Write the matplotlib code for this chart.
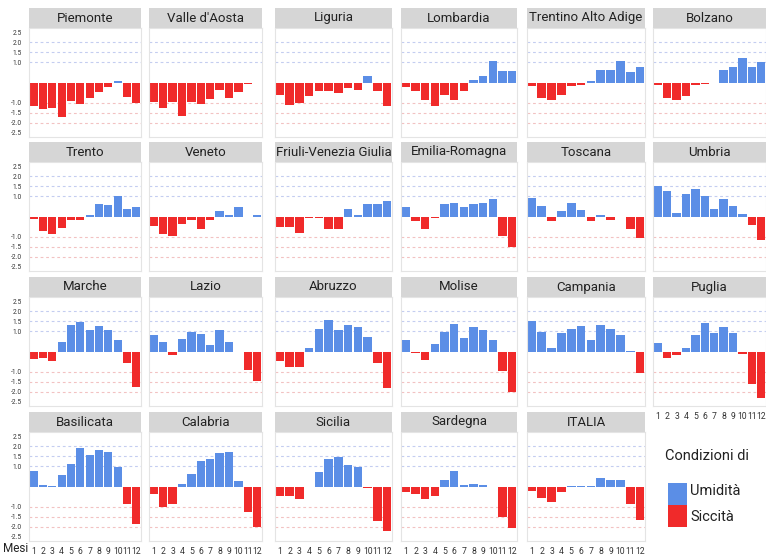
import matplotlib
matplotlib.use("Agg")
import matplotlib.pyplot as plt
from matplotlib.patches import Rectangle

plt.rcParams['font.family'] = ['Liberation Sans Narrow', 'Roboto', 'DejaVu Sans']

months = [1, 2, 3, 4, 5, 6, 7, 8, 9, 10, 11, 12]
month_labels = ['1', '2', '3', '4', '5', '6', '7', '8', '9', '10', '11', '12']
ytick_values = [2.5, 2.0, 1.5, 1.0, -1.0, -1.5, -2.0, -2.5]
ytick_labels = ['2.5', '2.0', '1.5', '1.0', '-1.0', '-1.5', '-2.0', '-2.5']

regions = ['Piemonte', "Valle d'Aosta", 'Liguria', 'Lombardia', 'Trentino Alto Adige', 'Bolzano',
           'Trento', 'Veneto', 'Friuli-Venezia Giulia', 'Emilia-Romagna', 'Toscana', 'Umbria',
           'Marche', 'Lazio', 'Abruzzo', 'Molise', 'Campania', 'Puglia',
           'Basilicata', 'Calabria', 'Sicilia', 'Sardegna', 'ITALIA']

piemonte = [-1.15, -1.3, -1.25, -1.7, -0.9, -1.05, -0.75, -0.45, -0.2, 0.05, -0.7, -1.0]
valle_aosta = [-0.95, -1.25, -0.95, -1.65, -0.95, -1.05, -0.8, -0.35, -0.75, -0.45, -0.05, 0.0]
liguria = [-0.6, -1.1, -1.0, -0.67, -0.42, -0.42, -0.5, -0.28, -0.38, 0.3, -0.42, -1.17]
lombardia = [-0.2, -0.4, -0.85, -1.15, -0.6, -0.85, -0.4, 0.1, 0.3, 1.05, 0.55, 0.55]
trentino_aa = [-0.15, -0.75, -0.85, -0.6, -0.15, -0.1, 0.05, 0.6, 0.6, 1.05, 0.5, 0.78]
bolzano = [-0.1, -0.75, -0.85, -0.65, -0.1, -0.05, 0.0, 0.6, 0.75, 1.2, 0.75, 1.0]
trento = [-0.1, -0.7, -0.85, -0.55, -0.15, -0.15, 0.05, 0.6, 0.55, 1.0, 0.35, 0.45]
veneto = [-0.45, -0.85, -0.95, -0.35, -0.15, -0.6, -0.15, 0.25, 0.05, 0.45, -0.03, 0.05]
friuli_vg = [-0.5, -0.5, -0.8, -0.05, -0.05, -0.6, -0.6, 0.35, 0.05, 0.6, 0.6, 0.75]
emilia_romagna = [0.45, -0.2, -0.6, -0.05, 0.6, 0.68, 0.45, 0.6, 0.68, 0.88, -0.95, -1.5]
toscana = [0.9, 0.5, -0.2, 0.25, 0.65, 0.3, -0.2, 0.05, -0.15, 0.0, -0.6, -1.05]
umbria = [1.5, 1.25, 0.15, 1.1, 1.35, 1.0, 0.35, 0.85, 0.5, 0.1, -0.4, -1.15]
marche = [-0.35, -0.3, -0.45, 0.45, 1.3, 1.45, 1.05, 1.25, 1.05, 0.55, -0.55, -1.75]
lazio = [0.8, 0.45, -0.15, 0.6, 0.95, 0.85, 0.3, 1.05, 0.45, 0.0, -0.9, -1.45]
abruzzo = [-0.45, -0.75, -0.75, 0.15, 1.1, 1.55, 1.05, 1.3, 1.2, 0.7, -0.55, -1.8]
molise = [0.55, -0.05, -0.4, 0.35, 0.95, 1.35, 0.65, 1.2, 1.05, 0.55, -0.95, -2.0]
campania = [1.5, 0.95, 0.15, 0.9, 1.1, 1.25, 0.55, 1.3, 1.1, 0.8, 0.02, -1.05]
puglia = [0.4, -0.3, -0.15, 0.15, 0.8, 1.4, 0.9, 1.2, 0.9, -0.1, -1.6, -2.3]
basilicata = [0.75, 0.05, 0.03, 0.55, 1.1, 1.9, 1.55, 1.8, 1.7, 0.95, -0.85, -1.85]
calabria = [-0.35, -1.0, -0.85, 0.1, 0.6, 1.25, 1.35, 1.65, 1.7, 0.25, -1.25, -2.0]
sicilia = [-0.45, -0.45, -0.6, 0.0, 0.7, 1.35, 1.45, 1.05, 0.95, -0.05, -1.7, -2.2]
sardegna = [-0.25, -0.35, -0.6, -0.45, 0.3, 0.75, 0.05, 0.1, 0.05, 0.0, -1.5, -2.05]
italia = [-0.2, -0.55, -0.75, -0.25, 0.03, 0.02, 0.02, 0.4, 0.3, 0.3, -0.85, -1.65]

values = [piemonte, valle_aosta, liguria, lombardia, trentino_aa, bolzano,
          trento, veneto, friuli_vg, emilia_romagna, toscana, umbria,
          marche, lazio, abruzzo, molise, campania, puglia,
          basilicata, calabria, sicilia, sardegna, italia]

BLUE = '#5b8ee6'
RED = '#f02a2a'

W, H = 766, 556
fig = plt.figure(figsize=(W / 100, H / 100), dpi=100)
fig.patch.set_facecolor('white')

col_left = [29, 149, 275, 401, 527, 653]
col_width = [112, 113, 117, 116, 118, 113]
row_top = [8, 142, 277, 412]
title_h = 20
plot_h = 109


def rect(x, y, w, h):
    return [x / W, 1 - (y + h) / H, w / W, h / H]


for i, (name, vals) in enumerate(zip(regions, values)):
    r, c = divmod(i, 6)
    x0, w = col_left[c], col_width[c]
    y0 = row_top[r]
    # title strip
    tax = fig.add_axes(rect(x0, y0, w, title_h))
    tax.set_facecolor('#d6d6d6')
    tax.set_xticks([])
    tax.set_yticks([])
    for s in tax.spines.values():
        s.set_visible(False)
    tax.text(0.5, 0.5, name, ha='center', va='center', fontsize=9.5, color='#222222')
    # plot area
    ax = fig.add_axes(rect(x0, y0 + title_h, w, plot_h))
    ax.set_facecolor('white')
    for s in ax.spines.values():
        s.set_color('#e4e4e4')
        s.set_linewidth(0.8)
    for gv in (1.0, 1.5, 2.0):
        ax.axhline(gv, color='#c4cdf0', lw=0.8, ls=(0, (2.5, 2.5)), zorder=0)
        ax.axhline(-gv, color='#f2c2c2', lw=0.8, ls=(0, (2.5, 2.5)), zorder=0)
    colors = [BLUE if v >= 0 else RED for v in vals]
    ax.bar(months, vals, width=0.88, color=colors, zorder=2)
    ax.set_xlim(0.5, 12.5)
    ax.set_ylim(-2.7, 2.7)
    ax.tick_params(length=0)
    if c == 0:
        ax.set_yticks(ytick_values)
        ax.set_yticklabels(ytick_labels, fontsize=4.8, color='#333333')
        ax.tick_params(axis='y', pad=5)
    else:
        ax.set_yticks([])
    if r == 3 or (r == 2 and c == 5):
        ax.set_xticks(months)
        ax.set_xticklabels(month_labels, fontsize=6.2, color='#333333')
        ax.tick_params(axis='x', pad=4)
    else:
        ax.set_xticks([])

fig.text(3 / W, 1 - 548 / H, 'Mesi', fontsize=8.5, color='#222222', ha='left', va='center')

# legend
fig.text(665 / W, 1 - 456 / H, 'Condizioni di', fontsize=10.5, color='#222222', ha='left', va='center')
fig.patches.append(Rectangle((668 / W, 1 - 505 / H), 19 / W, 22 / H, transform=fig.transFigure,
                             facecolor=BLUE, edgecolor='none'))
fig.patches.append(Rectangle((668 / W, 1 - 527 / H), 19 / W, 22 / H, transform=fig.transFigure,
                             facecolor=RED, edgecolor='none'))
fig.text(690 / W, 1 - 491 / H, 'Umidità', fontsize=10.5, color='#222222', ha='left', va='center')
fig.text(690 / W, 1 - 517 / H, 'Siccità', fontsize=10.5, color='#222222', ha='left', va='center')

fig.savefig('out.png', dpi=100, facecolor='white')
